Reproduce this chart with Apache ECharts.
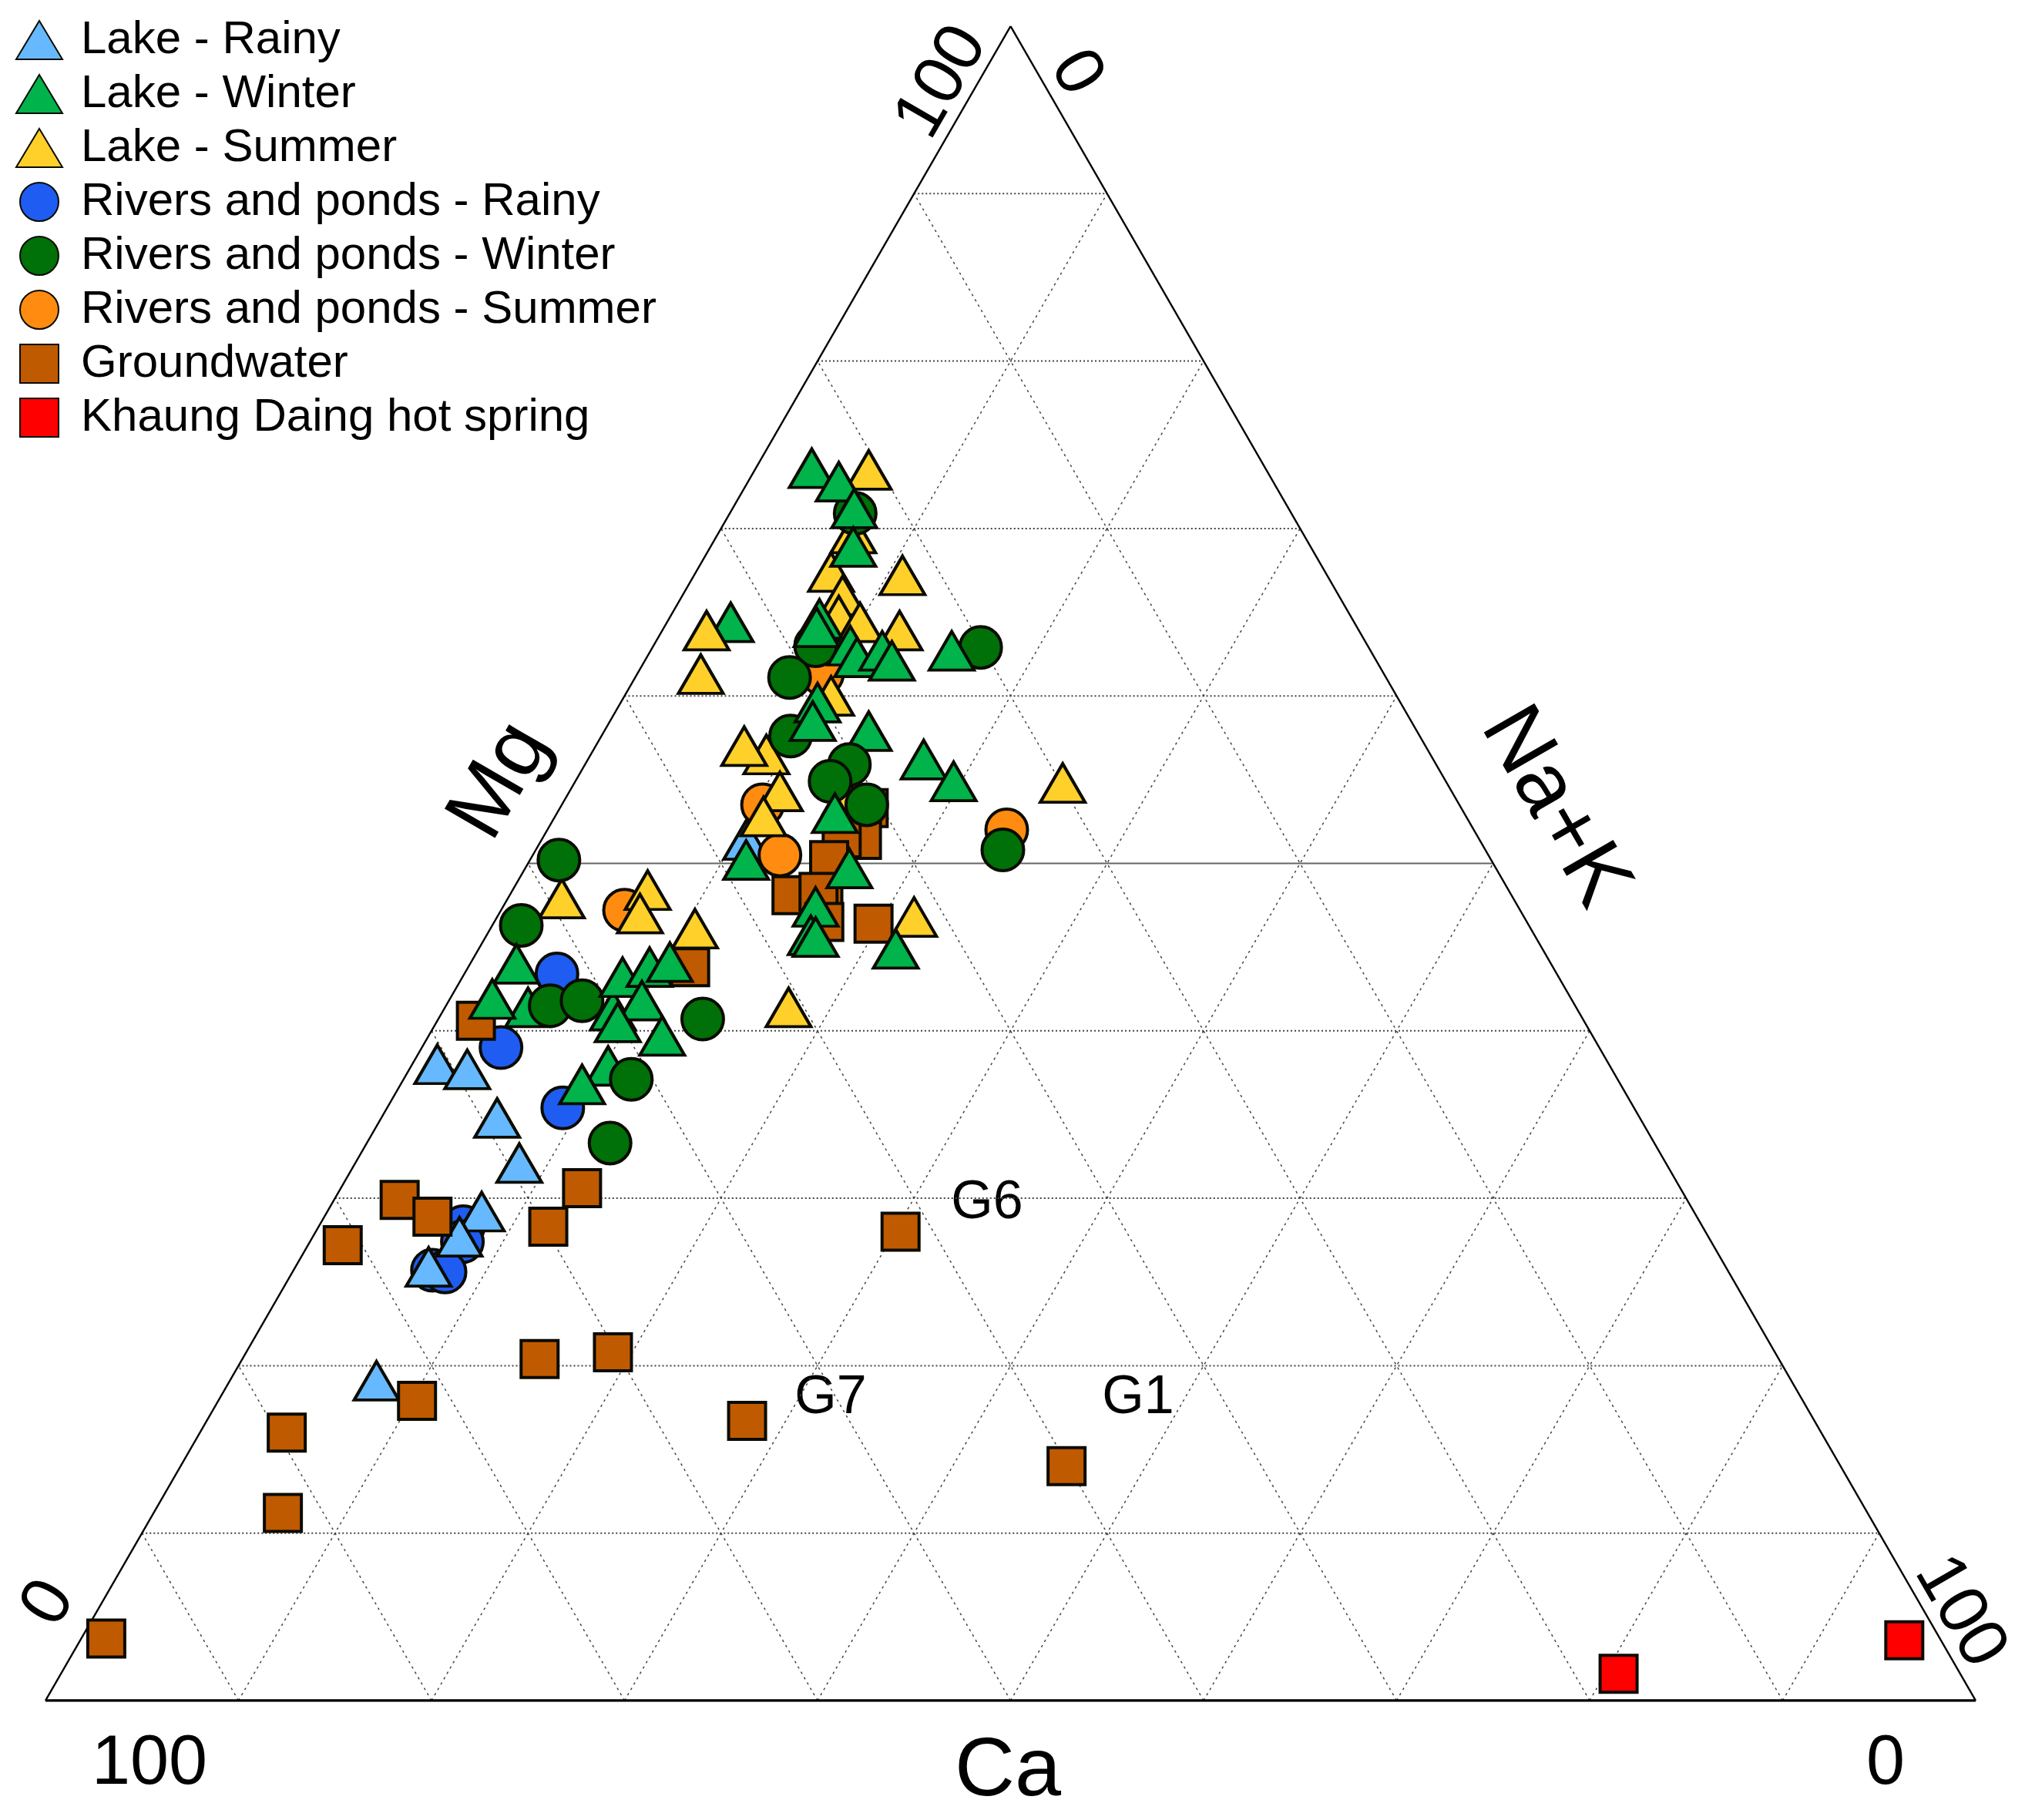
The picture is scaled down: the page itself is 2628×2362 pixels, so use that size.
<!DOCTYPE html>
<html>
<head>
<meta charset="utf-8">
<title>Ternary plot</title>
<script src="https://cdn.jsdelivr.net/npm/echarts@6/dist/echarts.min.js"></script>
<style>
  html, body { margin: 0; padding: 0; background: #fff; }
  #main { width: 2628px; height: 2362px; }
</style>
</head>
<body>
<div id="main"></div>
<script>
// every point is [Mg %, Na+K %], Ca is whatever is left
var lakeRainy = [[38.0,1.3],[37.7,3.0],[34.8,6.0],[32.1,8.5],[29.2,8.0],[27.7,7.6],[25.9,6.9],[19.1,7.6],[51.4,10.6]];
var lakeWinter = [[73.6,2.9],[72.8,4.7],[71.2,6.3],[68.9,7.4],[64.6,7.8],[64.1,7.9],[63.0,10.2],[62.3,10.9],[62.7,12.0],
  [62.1,12.8],[62.7,15.6],[59.6,10.2],[58.5,10.5],[56.2,17.4],[54.9,19.6],[53.0,14.4],[50.2,11.2],[49.7,16.8],
  [47.4,16.2],[45.7,16.8],[45.6,17.1],[44.9,21.6],[44.0,2.4],[41.9,2.2],[43.2,8.3],[43.8,9.4],[44.1,10.3],
  [41.8,10.0],[40.5,9.4],[39.7,12.1],[36.8,9.4]];
// these few sit behind the river circles and the summer triangles
var lakeWinterBack = [[64.4,3.3],[57.9,13.7],[41.4,4.3],[41.2,8.8],[37.9,10.2]];
var lakeSummer = [[73.5,5.9],[69.7,7.0],[67.4,7.0],[67.2,10.8],[66.0,8.3],[64.8,8.7],[64.4,10.0],[63.9,12.3],[63.9,2.3],[61.3,3.3],
  [60.0,10.7],[56.5,9.1],[57.0,7.7],[54.3,10.9],[54.8,25.3],[52.8,10.8],[47.9,2.8],[48.4,7.0],[47.0,7.3],[46.1,10.6],
  [46.8,21.6],[41.4,17.8],[54.1,14.4]];
var riversRainy = [[43.4,4.8],[39.0,4.1],[35.4,9.1],[28.3,7.5],[27.4,7.9],[25.7,7.2],[25.6,7.9]];
var riversWinter = [[70.9,6.5],[62.9,17.0],[63.0,8.4],[61.1,8.0],[57.6,9.8],[55.9,13.7],[54.9,13.2],[53.5,15.8],[50.2,1.5],[46.3,1.5],
  [41.5,5.4],[41.8,6.9],[40.7,13.7],[37.1,11.8],[33.3,12.6],[50.8,24.2]];
var riversSummer = [[61.3,9.6],[53.5,10.4],[50.5,12.8],[47.2,6.4],[52.0,23.8]];
var groundwater = [[53.3,16.0],[51.4,16.6],[51.5,15.5],[50.2,15.5],[48.1,14.6],[48.0,16.3],[48.3,15.9],[46.5,17.1],[46.4,19.7],[43.8,11.5],
  [40.6,2.0],[29.9,3.4],[28.9,5.6],[27.2,1.8],[30.6,12.5],[28.3,11.9],[28.0,30.3],[20.4,15.4],[20.8,19.0],[17.9,10.3],
  [16.7,28.0],[16.0,4.5],[11.2,6.7],[3.7,1.3],[14.0,45.9]];
var hotSpring = [[1.6,80.7],[3.6,94.5]];
var gridLevels = [10, 20, 30, 40, 50, 60, 70, 80, 90];

var TRI = [58, 50], CIR = 54, SQ = 48;
var SQUARE_ICON = 'path://M0,0H10V10H0Z';

var chart = echarts.init(document.getElementById('main'));

// ternary to plot position
function toXY(p) {
  return [p[1] + p[0] / 2, p[0]];
}

function lineSeries(a, b, style) {
  return {
    type: 'line',
    silent: true,
    symbol: 'none',
    animation: false,
    z: 1,
    lineStyle: style,
    data: [toXY(a), toXY(b)]
  };
}

function pointSeries(name, data, symbol, size, color, z) {
  return {
    name: name,
    type: 'scatter',
    symbol: symbol,
    symbolSize: size,
    z: z,
    itemStyle: { color: color, borderColor: '#0b0b00', borderWidth: 4, opacity: 1 },
    data: data.map(toXY)
  };
}

var series = [];
gridLevels.forEach(function (p) {
  var st = { color: '#444', width: 1.5, type: [3, 5] };
  var flat = p === 50 ? { color: '#666', width: 2, type: 'solid' } : { color: '#444', width: 2, type: [2, 3] };
  series.push(lineSeries([p, 0], [p, 100 - p], flat));
  series.push(lineSeries([0, p], [100 - p, p], st));
  series.push(lineSeries([0, 100 - p], [100 - p, 0], st));
});
series.push(lineSeries([0, 0], [100, 0], { color: '#000', width: 2.5 }));
series.push(lineSeries([100, 0], [0, 100], { color: '#000', width: 2.5 }));
series.push(lineSeries([0, 0], [0, 100], { color: '#000', width: 3.5 }));

// drawing order differs from the legend order
series.push(pointSeries('Rivers and ponds - Rainy', riversRainy, 'circle', CIR, '#1f5cf2', 2));
series.push(pointSeries('Lake - Rainy', lakeRainy, 'triangle', TRI, '#66b9ff', 3));
series.push(pointSeries('Groundwater', groundwater, 'rect', SQ, '#c05a00', 4));
series.push(pointSeries('Khaung Daing hot spring', hotSpring, 'rect', SQ, '#ff0000', 4));
series.push(pointSeries('Lake - Winter', lakeWinterBack, 'triangle', TRI, '#00b34a', 5));
series.push(pointSeries('Rivers and ponds - Summer', riversSummer, 'circle', CIR, '#ff8c10', 6));
series.push(pointSeries('Lake - Summer', lakeSummer, 'triangle', TRI, '#ffd02a', 7));
series.push(pointSeries('Rivers and ponds - Winter', riversWinter, 'circle', CIR, '#007008', 8));
series.push(pointSeries('Lake - Winter', lakeWinter, 'triangle', TRI, '#00b34a', 9));

function label(text, x, y, size, rot) {
  return {
    type: 'text',
    x: x,
    y: y,
    rotation: (rot || 0) * Math.PI / 180,
    style: {
      text: text,
      fill: '#000',
      font: size + 'px "Liberation Sans"',
      align: 'center',
      verticalAlign: 'middle'
    }
  };
}

chart.setOption({
  animation: false,
  backgroundColor: '#fff',
  grid: { left: 59, top: 34, width: 2505, height: 2173 },
  xAxis: { type: 'value', min: 0, max: 100, interval: 10, show: false },
  yAxis: { type: 'value', min: 0, max: 100, interval: 10, show: false },
  legend: {
    left: 20,
    top: 22,
    padding: 0,
    orient: 'vertical',
    itemWidth: 60,
    itemHeight: 50,
    itemGap: 10,
    textStyle: { fontFamily: 'Liberation Sans', fontSize: 60, color: '#000', padding: [0, 0, 0, 19] },
    selectedMode: false,
    data: [
      { name: 'Lake - Rainy', icon: 'triangle' },
      { name: 'Lake - Winter', icon: 'triangle' },
      { name: 'Lake - Summer', icon: 'triangle' },
      { name: 'Rivers and ponds - Rainy', icon: 'circle' },
      { name: 'Rivers and ponds - Winter', icon: 'circle' },
      { name: 'Rivers and ponds - Summer', icon: 'circle' },
      { name: 'Groundwater', icon: SQUARE_ICON },
      { name: 'Khaung Daing hot spring', icon: SQUARE_ICON }
    ]
  },
  series: series,
  graphic: [
    label('100', 1223, 107, 90, 60),
    label('0', 1396, 95, 90, -60),
    label('Mg', 650, 1014, 110, 60),
    label('Na+K', 2017, 1048, 110, -60),
    label('0', 64, 2081, 90, 60),
    label('100', 2543, 2092, 90, -60),
    label('100', 194, 2290, 90),
    label('Ca', 1308, 2300, 108),
    label('0', 2447, 2290, 90),
    label('G6', 1281, 1562, 70),
    label('G7', 1078, 1815, 70),
    label('G1', 1477, 1815, 70)
  ]
});
</script>
</body>
</html>
